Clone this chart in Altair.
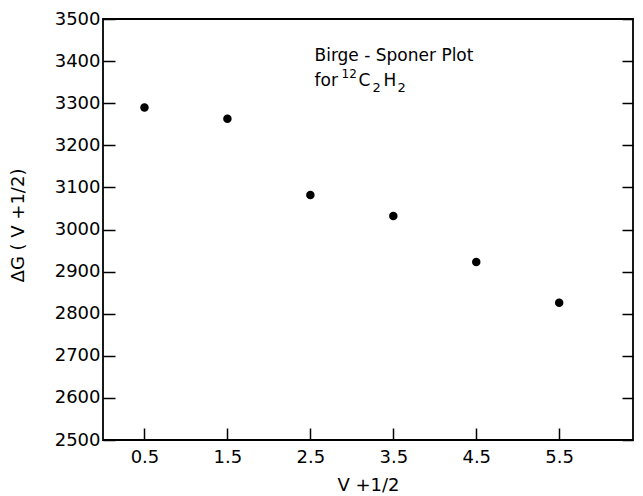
import altair as alt
import pandas as pd

# data
v_half = [0.5, 1.5, 2.5, 3.5, 4.5, 5.5]
delta_g = [3290, 3263, 3082, 3032, 2923, 2826]
x_ticks = [0.5, 1.5, 2.5, 3.5, 4.5, 5.5]
y_ticks = [2500, 2600, 2700, 2800, 2900, 3000, 3100, 3200, 3300, 3400, 3500]
note_title = "Birge - Sponer Plot"
note_parts = ["for", "12", "C", "2", "H", "2"]
note_x = 2.55
note_y = [3400, 3341]

df = pd.DataFrame({"v": v_half, "g": delta_g})

W, H = 530, 421
FONT = "DejaVu Sans"
xs = alt.Scale(domain=[0, 6.39], nice=False, zero=False)
ys = alt.Scale(domain=[2500, 3500], nice=False, zero=False)

# main layer: points with labelled axes (no ticks)
points = alt.Chart(df).mark_circle(size=72, color="black", opacity=1).encode(
    x=alt.X("v:Q", scale=xs, axis=alt.Axis(
        orient="bottom", values=x_ticks, format=".1f", tickSize=0, labelPadding=8,
        labelFontSize=18, labelFont=FONT, labelColor="black",
        title="V +1/2", titleFontSize=18, titleFont=FONT, titleFontWeight="normal",
        titleColor="black", titleY=45, titleBaseline="middle",
        domain=False, grid=False)),
    y=alt.Y("g:Q", scale=ys, axis=alt.Axis(
        orient="left", values=y_ticks, format="d", tickSize=0, labelPadding=3,
        labelFontSize=18, labelFont=FONT, labelColor="black",
        title="ΔG ( V +1/2)", titleFontSize=18, titleFont=FONT, titleFontWeight="normal",
        titleColor="black", titleAngle=270, titleX=-85, titleY=206,
        titleAlign="center", titleBaseline="middle", domain=False, grid=False)),
)

# inward ticks on bottom and left edges
ticks_a = alt.Chart(df).mark_circle(opacity=0).encode(
    x=alt.X("v:Q", scale=xs, axis=alt.Axis(
        orient="top", offset=-H, values=x_ticks, tickSize=12, tickWidth=1.5,
        tickColor="black", labels=False, domain=False, grid=False, title=None)),
    y=alt.Y("g:Q", scale=ys, axis=alt.Axis(
        orient="right", offset=-W, values=y_ticks, tickSize=12, tickWidth=1.5,
        tickColor="black", labels=False, domain=False, grid=False, title=None)),
)

# inward ticks on right edge
ticks_b = alt.Chart(df).mark_circle(opacity=0).encode(
    x=alt.X("v:Q", scale=xs, axis=None),
    y=alt.Y("g:Q", scale=ys, axis=alt.Axis(
        orient="left", offset=-W, values=y_ticks, tickSize=11, tickWidth=1.5,
        tickColor="black", labels=False, domain=False, grid=False, title=None)),
)


def note(text, y, size, dx=0, dy=0):
    d = pd.DataFrame({"t": [text], "x": [note_x], "y": [y]})
    return alt.Chart(d).mark_text(
        align="left", baseline="alphabetic", fontSize=size, font=FONT,
        color="black", dx=dx, dy=dy
    ).encode(
        x=alt.X("x:Q", scale=xs, axis=None),
        y=alt.Y("y:Q", scale=ys, axis=None),
        text="t:N",
    )


line1 = note(note_title, note_y[0], 17)
# second line: for 12C2H2 with super/subscripts
part_dx = [0, 27, 44, 58, 69, 83]
part_dy = [0, -8, 0, 6, 0, 6]
part_size = [17, 12, 17, 13, 17, 13]
line2 = [note(t, note_y[1], s, dx, dy)
         for t, s, dx, dy in zip(note_parts, part_size, part_dx, part_dy)]

chart = (
    alt.layer(points, ticks_a, ticks_b, line1, *line2)
    .resolve_axis(x="independent", y="independent")
    .properties(
        width=W, height=H,
        autosize=alt.AutoSizeParams(type="none"),
        padding={"left": 95, "top": 11, "right": 1, "bottom": 56},
    )
    .configure_view(stroke="black", strokeWidth=1.8)
)

chart.save("out.html", embed_options={"renderer": "svg", "actions": False})
